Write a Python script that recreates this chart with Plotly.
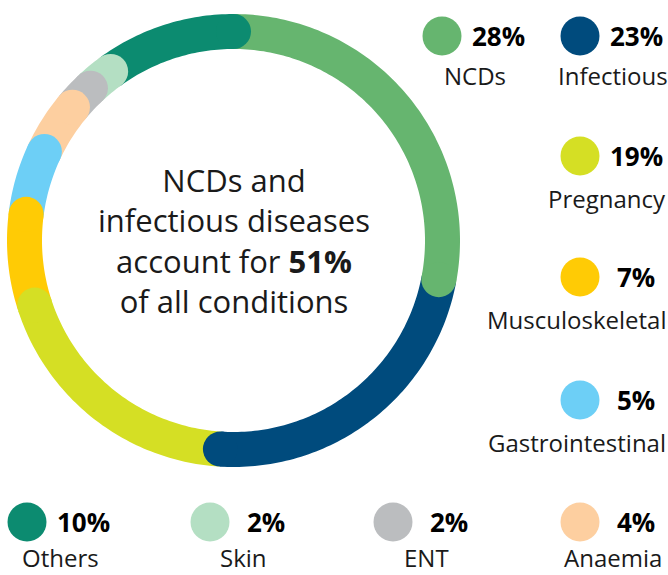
import numpy as np
import plotly.graph_objects as go

# data
conditions = ["NCDs", "Infectious", "Pregnancy", "Musculoskeletal", "Gastrointestinal",
              "Anaemia", "ENT", "Skin", "Others"]
shares = [28, 23, 19, 7, 5, 4, 2, 2, 10]
colors = ["#66b56f", "#004b7d", "#d5df24", "#ffcb05", "#6dcff6",
          "#fdcfa0", "#bbbdbf", "#b4dfc3", "#0c8b70"]
center_lines = ["NCDs and", "infectious diseases", "account for <b>51%</b>", "of all conditions"]

# legend placement (pixels)
leg_x = [442, 580, 580, 580, 580, 580, 393, 210, 27]
leg_y = [36, 36, 156, 277, 400, 522, 522, 522, 522]
label_dy = [39, 39, 42, 42, 42, 42, 42, 42, 42]
label_anchor = ["center", "center", "right", "right", "right", "center", "center", "center", "center"]

W, H = 668, 575
cx, cy, R = 233.5, 240.5, 230
ring_r = 209
ring_w = 35
font = "Open Sans"
ink = "#1a1a1a"

fig = go.Figure()

# ring segments
starts = np.cumsum([0] + shares[:-1])
ends = np.cumsum(shares)
for name, s, e, c in zip(conditions, starts, ends, colors):
    th = np.linspace(s * 3.6, e * 3.6, max(int((e - s) * 3.6) + 2, 3))
    fig.add_trace(go.Scatterpolar(r=[ring_r] * len(th), theta=th, mode="lines",
                                  line=dict(color=c, width=ring_w), hoverinfo="skip",
                                  showlegend=False))

# rounded end caps (earlier segments on top)
order = list(range(len(shares)))[::-1]
fig.add_trace(go.Scatterpolar(r=[ring_r] * len(order), theta=[ends[i] * 3.6 for i in order],
                              mode="markers",
                              marker=dict(size=ring_w, color=[colors[i] for i in order], line_width=0),
                              hoverinfo="skip", showlegend=False))

# legend dots
fig.add_trace(go.Scatter(x=leg_x, y=leg_y, mode="markers",
                         marker=dict(size=39, color=colors, line_width=0),
                         hoverinfo="skip", showlegend=False))

annotations = []
for name, v, x, y, dy, anc in zip(conditions, shares, leg_x, leg_y, label_dy, label_anchor):
    annotations.append(dict(x=x + 56, y=y, xref="x", yref="y", text="<b>%d%%</b>" % v,
                            showarrow=False, xanchor="center", yanchor="middle",
                            font=dict(family=font, size=26, color="#000000")))
    lx = x + 33 if anc == "center" else 667
    if y + dy > H - 16:
        # bottom row: keep the text box inside the page
        ly, yanc = H, "bottom"
    else:
        ly, yanc = y + dy, "middle"
    annotations.append(dict(x=lx, y=ly, xref="x", yref="y", text=name,
                            showarrow=False, xanchor=anc, yanchor=yanc, borderpad=0,
                            font=dict(family=font, size=24, color=ink)))

annotations.append(dict(x=cx, y=cy, xref="x", yref="y", text="<br>".join(center_lines),
                        showarrow=False, xanchor="center", yanchor="middle", align="center",
                        font=dict(family=font, size=31, color=ink)))

fig.update_layout(
    width=W, height=H,
    margin=dict(l=0, r=0, t=0, b=0),
    paper_bgcolor="white", plot_bgcolor="white",
    polar=dict(
        domain=dict(x=[(cx - R) / W, (cx + R) / W], y=[1 - (cy + R) / H, 1 - (cy - R) / H]),
        bgcolor="rgba(0,0,0,0)",
        radialaxis=dict(range=[0, R], visible=False),
        angularaxis=dict(rotation=90, direction="clockwise", visible=False),
    ),
    xaxis=dict(range=[0, W], visible=False, fixedrange=True),
    yaxis=dict(range=[H, 0], visible=False, fixedrange=True),
    annotations=annotations,
)

fig.write_html("out.html", config={"displayModeBar": False},
               post_script="document.body.style.margin='0';")
